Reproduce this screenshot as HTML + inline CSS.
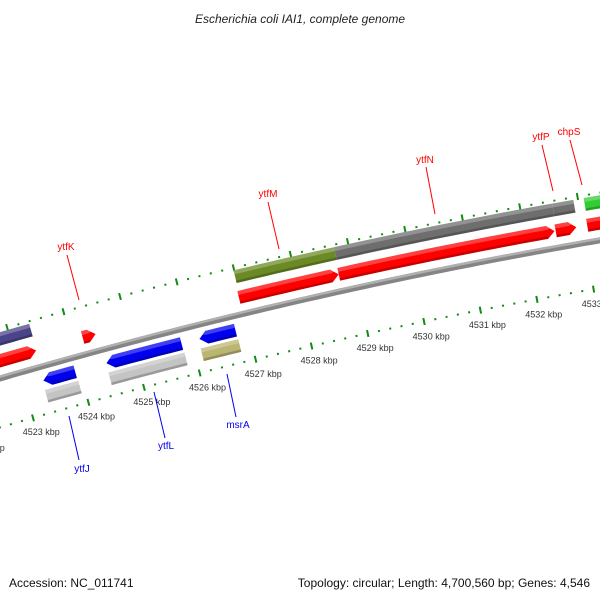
<!DOCTYPE html>
<html><head><meta charset="utf-8"><style>
html,body{margin:0;padding:0;background:#fff;}
svg{display:block;font-family:"Liberation Sans","DejaVu Sans",sans-serif;}
</style></head><body>
<svg id="map" width="600" height="600" viewBox="0 0 600 600">
<rect x="0" y="0" width="600" height="600" fill="#fff"/>
<text x="300" y="23" text-anchor="middle" font-size="12" font-style="italic" fill="#222">Escherichia coli IAI1, complete genome</text>
<g id="plot"></g>
<text x="9" y="587" font-size="12" fill="#111">Accession: NC_011741</text>
<text x="590" y="587" text-anchor="end" font-size="12" fill="#111">Topology: circular; Length: 4,700,560 bp; Genes: 4,546</text>
</svg>
<script>
// ---- data (kbp) ----
const featureNames  = ["orf-left","ytfK","ytfM","ytfN","ytfP","chpS","cds-purple","cds-olive","cds-gray","cds-gray2","cds-green","ytfJ","ytfL","msrA","cds-ltgray1","cds-ltgray2","cds-khaki"];
const featureStart  = [4522.3,4524.2,4526.97,4528.73,4532.53,4533.08,4522.3,4526.99,4528.75,4532.55,4533.1,4523.35,4524.48,4526.14,4523.33,4524.47,4526.12];
const featureEnd    = [4523.37,4524.43,4528.73,4532.51,4532.89,4533.6,4523.38,4528.75,4532.55,4532.92,4533.8,4523.92,4525.82,4526.78,4523.93,4525.83,4526.79];
const featureTrack  = [1,1,1,1,1,1,2,2,2,2,2,-1,-1,-1,-2,-2,-2];
const featureStrand = [1,1,1,1,1,1,0,0,0,0,0,-1,-1,-1,0,0,0];
const featureColor  = ["#ff0000","#ff0000","#ff0000","#ff0000","#ff0000","#ff0000","#4a4488","#6b8a26","#6e6e6e","#6e6e6e","#33cc33","#0000ee","#0000ee","#0000ee","#c4c4c4","#c4c4c4","#bcb572"];
const tickKbp = [4521,4522,4523,4524,4525,4526,4527,4528,4529,4530,4531,4532,4533,4534];
const tickLabels = ["4521 kbp","4522 kbp","4523 kbp","4524 kbp","4525 kbp","4526 kbp","4527 kbp","4528 kbp","4529 kbp","4530 kbp","4531 kbp","4532 kbp","4533 kbp","4534 kbp"];

// ---- geometry ----
const CX=1521, CY=5614, R0=5452, A0=-14.76, K=0.61;
const trackR = {"1":5469,"2":5490,"-1":5438,"-2":5422};
const W=13, TIP=0.13;
function ang(bp){return (A0+(bp-4525)*K)*Math.PI/180;}
function P(bp,r){const a=ang(bp);return [CX+r*Math.sin(a),CY-r*Math.cos(a)];}
function arcPts(s,e,r){const n=Math.max(2,Math.ceil((e-s)*8));const o=[];for(let i=0;i<=n;i++){o.push(P(s+(e-s)*i/n,r));}return o;}
function band(s,e,r1,r2){const a=arcPts(s,e,r1),b=arcPts(s,e,r2).reverse();return a.concat(b);}
function shape(s,e,r,w,strand){
  const ro=r+w/2, ri=r-w/2;
  if(strand===1){const t=Math.max(s,e-TIP);return arcPts(s,t,ro).concat([P(e,r)]).concat(arcPts(s,t,ri).reverse());}
  if(strand===-1){const t=Math.min(e,s+TIP);return [P(s,r)].concat(arcPts(t,e,ro)).concat(arcPts(t,e,ri).reverse());}
  return band(s,e,ro,ri);
}
function d(pts){return "M"+pts.map(p=>p[0].toFixed(2)+","+p[1].toFixed(2)).join("L")+"Z";}
const NS="http://www.w3.org/2000/svg";
const plot=document.getElementById("plot");
function mk(tag,attrs){const el=document.createElementNS(NS,tag);for(const k in attrs)el.setAttribute(k,attrs[k]);plot.appendChild(el);return el;}

// backbone
let bb=mk("path",{d:d(band(4518,4538,R0+3,R0-3)),fill:"#858585"});


let bbh=mk("path",{d:d(band(4518,4538,R0+3,R0+0.5)),fill:"#b0b0b0"});



// tick rings
const ringR=[5499,5405];
ringR.forEach((rr,ri)=>{
  for(let k=45200;k<=45350;k+=2){
    const bp=k/10, major=(k%10===0);
    const len=major?7:2;
    const p1=P(bp,rr-len/2),p2=P(bp,rr+len/2);
    const t=mk("line",{x1:p1[0],y1:p1[1],x2:p2[0],y2:p2[1],stroke:"#138a13","stroke-width":2});
    
    
  }
});
tickKbp.forEach((v,i)=>{
  const p=P(v+0.07,5405-16);
  const t=mk("text",{x:p[0].toFixed(1),y:(p[1]+3).toFixed(1),"text-anchor":"middle","font-size":"9",fill:"#333"});
  t.textContent=tickLabels[i];
  
  
});

// features
featureNames.forEach((nm,i)=>{
  const r=trackR[String(featureTrack[i])];
  const pts=shape(featureStart[i],featureEnd[i],r,W,featureStrand[i]);
  const f=mk("path",{d:d(pts),fill:featureColor[i]});
  
  
  const hi=mk("path",{d:d(shape(featureStart[i],featureEnd[i],r+W/2-2,4,featureStrand[i])),fill:"#fff",opacity:0.25});
  
  
  const sh=mk("path",{d:d(band(featureStart[i]+(featureStrand[i]===-1?TIP:0),featureEnd[i]-(featureStrand[i]===1?TIP:0),r-W/2+2.5,r-W/2)),fill:"#000",opacity:0.22});
  
  
});

// gene labels
const labels=[
 ["ytfK",66,250,67,255,79,300,"#ff0000"],
 ["ytfM",268,197,268,202,279,249,"#ff0000"],
 ["ytfN",425,163,426,167,435,214,"#ff0000"],
 ["ytfP",541,140,542,145,553,191,"#ff0000"],
 ["chpS",569,135,570,140,582,185,"#ff0000"],
 ["ytfJ",82,472,69,416,79,460,"#0000ee"],
 ["ytfL",166,449,154,392,165,438,"#0000ee"],
 ["msrA",238,428,227,374,236,417,"#0000ee"]
];
labels.forEach(l=>{
  const ln=mk("line",{x1:l[3],y1:l[4],x2:l[5],y2:l[6],stroke:l[7],"stroke-width":1});
  
  
  const t=mk("text",{x:l[1],y:l[2],"text-anchor":"middle","font-size":"10",fill:l[7]});
  t.textContent=l[0];
  
  
});
</script>
</body></html>
